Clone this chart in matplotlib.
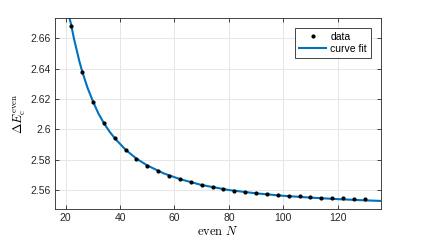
import numpy as np
import matplotlib
matplotlib.use('Agg')
import matplotlib.pyplot as plt
from matplotlib.ticker import FormatStrFormatter

# data
N = [22, 26, 30, 34, 38, 42, 46, 50, 54, 58, 62, 66, 70, 74, 78, 82, 86, 90,
     94, 98, 102, 106, 110, 114, 118, 122, 126, 130]
E = [2.6679, 2.6380, 2.6182, 2.6040, 2.5940, 2.5865, 2.5805, 2.5760, 2.5725,
     2.5695, 2.5670, 2.5650, 2.5633, 2.5618, 2.5607, 2.5596, 2.5587, 2.5580,
     2.5574, 2.5569, 2.5563, 2.5559, 2.5554, 2.5550, 2.5547, 2.5545, 2.5541,
     2.5539]

# fitted curve
fit_N = [21.0, 21.5, 22, 23, 24, 25, 26, 28, 30, 32, 34, 36, 38, 42, 46, 50,
         56, 62, 70, 80, 90, 100, 110, 120, 130, 136]
fit_E = [2.6760, 2.6725, 2.6690, 2.6600, 2.6525, 2.6450, 2.6385, 2.6275,
         2.6185, 2.6105, 2.6042, 2.5988, 2.5942, 2.5866, 2.5807, 2.5762,
         2.5710, 2.5672, 2.5633, 2.5600, 2.5578, 2.5562, 2.5550, 2.5540,
         2.5532, 2.5528]

plt.rcParams['font.family'] = ['Liberation Sans', 'DejaVu Sans']
plt.rcParams['mathtext.fontset'] = 'cm'

fig = plt.figure(figsize=(4.22, 2.45), dpi=100)
ax = fig.add_axes([0.130, 0.147, 0.773, 0.780])

ax.plot(fit_N, fit_E, color='#0072BD', lw=1.5, label='curve fit', zorder=2)
ax.plot(N, E, 'o', color='black', ms=2.0, label='data', zorder=3)

ax.set_xlim(16, 136)
ax.set_ylim(2.5475, 2.6735)
ax.set_xticks([20, 40, 60, 80, 100, 120])
ax.set_yticks([2.56, 2.58, 2.60, 2.62, 2.64, 2.66])
ax.yaxis.set_major_formatter(FormatStrFormatter('%g'))

ax.grid(True, color='#e6e6e6', lw=0.7)
ax.set_axisbelow(True)
ax.tick_params(direction='in', top=True, right=True, length=3, width=0.6,
               colors='#262626', labelsize=7.5, pad=3)
for s in ax.spines.values():
    s.set_color('#262626')
    s.set_linewidth(0.6)

ax.set_xlabel(r'$\mathrm{even}\ N$', fontsize=9, labelpad=1)
ax.set_ylabel(r'$\Delta E_{\mathrm{c}}^{\mathrm{even}}$', fontsize=9, labelpad=2)

h, l = ax.get_legend_handles_labels()
leg = ax.legend(h[::-1], l[::-1], loc='upper right', fontsize=7.5,
                fancybox=False, framealpha=1, edgecolor='#262626',
                handlelength=2.6, borderaxespad=1.0, borderpad=0.35,
                labelspacing=0.2, handletextpad=0.4)
leg.get_frame().set_linewidth(0.6)

fig.savefig('out.png', dpi=100)
